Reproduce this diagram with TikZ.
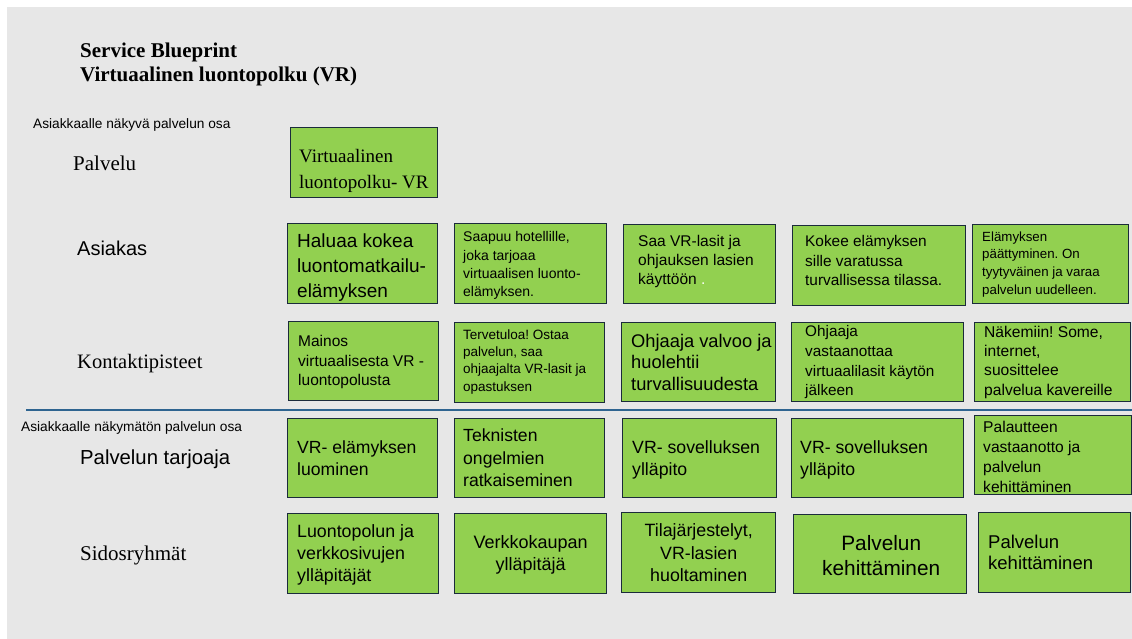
\documentclass[tikz,border=0pt]{standalone}
\usepackage{fontspec}
\setmainfont{Liberation Serif}
\newfontfamily\sansfam{Liberation Sans}
\definecolor{pagebg}{HTML}{E7E7E7}
\definecolor{cardfill}{HTML}{92D050}
\definecolor{cardedge}{HTML}{1B2B3B}
\definecolor{ruleblue}{HTML}{2E6490}

\begin{document}
\frenchspacing
\begin{tikzpicture}[x=1pt,y=-1pt,
  card/.style 2 args={draw=cardedge, line width=1.4pt, fill=cardfill, inner sep=0pt,
    anchor=north west, minimum width=#1, minimum height=#2},
  ss/.style 2 args={font=\sansfam\fontsize{#1}{#2}\selectfont},
  rm/.style 2 args={font=\fontsize{#1}{#2}\selectfont},
  txt/.style={inner sep=0pt, align=left, anchor=west, text=black},
  ctxt/.style={inner sep=0pt, align=center, anchor=center, text=black},
  lbl/.style={inner sep=0pt, anchor=base west, text=black}
]
\useasboundingbox (0,0) rectangle (1132,639);
\fill[white] (0,0) rectangle (1132,639);
\fill[pagebg] (7,7) rectangle (1132,639);

% heading
\node[lbl, font=\bfseries\fontsize{21}{25}\selectfont] (title1) at (80,58) {Service Blueprint};
\node[lbl, font=\bfseries\fontsize{21}{25}\selectfont] (title2) at (80,82) {Virtuaalinen luontopolku (VR)};

% row labels
\node[lbl, ss={13.7}{16}] (visible) at (33,129) {Asiakkaalle näkyvä palvelun osa};
\node[lbl, rm={21}{25}] (lPalvelu) at (73,171) {Palvelu};
\node[lbl, ss={20}{24}] (lAsiakas) at (77,255) {Asiakas};
\node[lbl, rm={20.5}{25}] (lKontakti) at (77,368) {Kontaktipisteet};
\node[lbl, ss={13.7}{16}] (hidden) at (21,431) {Asiakkaalle näkymätön palvelun osa};
\node[lbl, ss={20.3}{24}] (lTarjoaja) at (80,464) {Palvelun tarjoaja};
\node[lbl, rm={21}{25}] (lSidos) at (80,560) {Sidosryhmät};

% line of visibility
\coordinate (lineL) at (26,410);
\coordinate (lineR) at (1132,410);
\draw[ruleblue, line width=1.8pt] (lineL) -- (lineR);

% Palvelu
\node[card={147pt}{70pt}] (p) at (290,127) {};
\node[txt, rm={19}{26}] (pt) at ([xshift=9pt, yshift=-8pt]p.west) {Virtuaalinen\\luontopolku- VR};

% Asiakas
\node[card={150pt}{80pt}] (a1) at (287,223) {};
\node[txt, ss={19}{25}] (a1t) at ([xshift=10pt, yshift=-4pt]a1.west) {Haluaa kokea\\luontomatkailu-\\elämyksen};
\node[card={152pt}{80pt}] (a2) at (454,223) {};
\node[txt, ss={14}{18.3}] (a2t) at ([xshift=9pt, yshift=-2pt]a2.west) {Saapuu hotellille,\\joka tarjoaa\\virtuaalisen luonto-\\elämyksen.};
\node[card={152pt}{79pt}] (a3) at (623,224) {};
\node[txt, ss={15.5}{19}] (a3t) at ([xshift=15pt, yshift=3pt]a3.west) {Saa VR-lasit ja\\ohjauksen lasien\\käyttöön {\color{white}.}};
\node[card={173pt}{80pt}] (a4) at (792,225) {};
\node[txt, ss={15.4}{19.5}] (a4t) at ([xshift=13pt, yshift=5pt]a4.west) {Kokee elämyksen\\sille varatussa\\turvallisessa tilassa.};
\node[card={156pt}{79pt}] (a5) at (972,224) {};
\node[txt, ss={13.3}{17.7}] (a5t) at ([xshift=10pt]a5.west) {Elämyksen\\päättyminen. On\\tyytyväinen ja varaa\\palvelun uudelleen.};

% Kontaktipisteet
\node[card={150pt}{79pt}] (k1) at (288,321) {};
\node[txt, ss={15.5}{19.5}] (k1t) at ([xshift=10pt, yshift=-1pt]k1.west) {Mainos\\virtuaalisesta VR -\\luontopolusta};
\node[card={150pt}{80pt}] (k2) at (454,322) {};
\node[txt, ss={13.5}{17.3}] (k2t) at ([xshift=9pt, yshift=1pt]k2.west) {Tervetuloa! Ostaa\\palvelun, saa\\ohjaajalta VR-lasit ja\\opastuksen};
\node[card={154pt}{79pt}] (k3) at (621,322) {};
\node[txt, ss={18.3}{21.5}] (k3t) at ([xshift=10pt]k3.west) {Ohjaaja valvoo ja\\huolehtii\\turvallisuudesta};
\node[card={172pt}{79pt}] (k4) at (791,322) {};
\node[txt, ss={15.3}{19.7}] (k4t) at ([xshift=14pt]k4.west) {Ohjaaja\\vastaanottaa\\virtuaalilasit käytön\\jälkeen};
\node[card={156pt}{79pt}] (k5) at (974,322) {};
\node[txt, ss={15.6}{19.3}] (k5t) at ([xshift=10pt]k5.west) {Näkemiin! Some,\\internet,\\suosittelee\\palvelua kavereille};

% Palvelun tarjoaja
\node[card={150pt}{79pt}] (t1) at (287,418) {};
\node[txt, ss={17.6}{22}] (t1t) at ([xshift=10pt]t1.west) {VR- elämyksen\\luominen};
\node[card={150pt}{79pt}] (t2) at (454,418) {};
\node[txt, ss={17.6}{22.5}] (t2t) at ([xshift=9pt]t2.west) {Teknisten\\ongelmien\\ratkaiseminen};
\node[card={154pt}{79pt}] (t3) at (622,418) {};
\node[txt, ss={17.7}{22}] (t3t) at ([xshift=10pt, yshift=-1.5pt]t3.west) {VR- sovelluksen\\ylläpito};
\node[card={172pt}{79pt}] (t4) at (791,418) {};
\node[txt, ss={17.7}{22}] (t4t) at ([xshift=9pt, yshift=-1.5pt]t4.west) {VR- sovelluksen\\ylläpito};
\node[card={157pt}{79pt}] (t5) at (974,415) {};
\node[txt, ss={15.6}{20}] (t5t) at ([xshift=9pt, yshift=-1.5pt]t5.west) {Palautteen\\vastaanotto ja\\palvelun\\kehittäminen};

% Sidosryhmat
\node[card={151pt}{80pt}] (s1) at (287,513) {};
\node[txt, ss={17.8}{22}] (s1t) at ([xshift=10pt, yshift=-1pt]s1.west) {Luontopolun ja\\verkkosivujen\\ylläpitäjät};
\node[card={152pt}{80pt}] (s2) at (454,513) {};
\node[ctxt, ss={18}{22}] (s2t) at ([yshift=-1pt]s2.center) {Verkkokaupan\\ylläpitäjä};
\node[card={154pt}{80pt}] (s3) at (621,512) {};
\node[ctxt, ss={17.8}{22.5}] (s3t) at (s3.center) {Tilajärjestelyt,\\VR-lasien\\huoltaminen};
\node[card={173pt}{79pt}] (s4) at (793,514) {};
\node[ctxt, ss={20.8}{25}] (s4t) at ([xshift=1pt, yshift=-1pt]s4.center) {Palvelun\\kehittäminen};
\node[card={152pt}{80pt}] (s5) at (978,512) {};
\node[txt, ss={18.5}{21}] (s5t) at ([xshift=10pt]s5.west) {Palvelun\\kehittäminen};
\end{tikzpicture}
\end{document}
